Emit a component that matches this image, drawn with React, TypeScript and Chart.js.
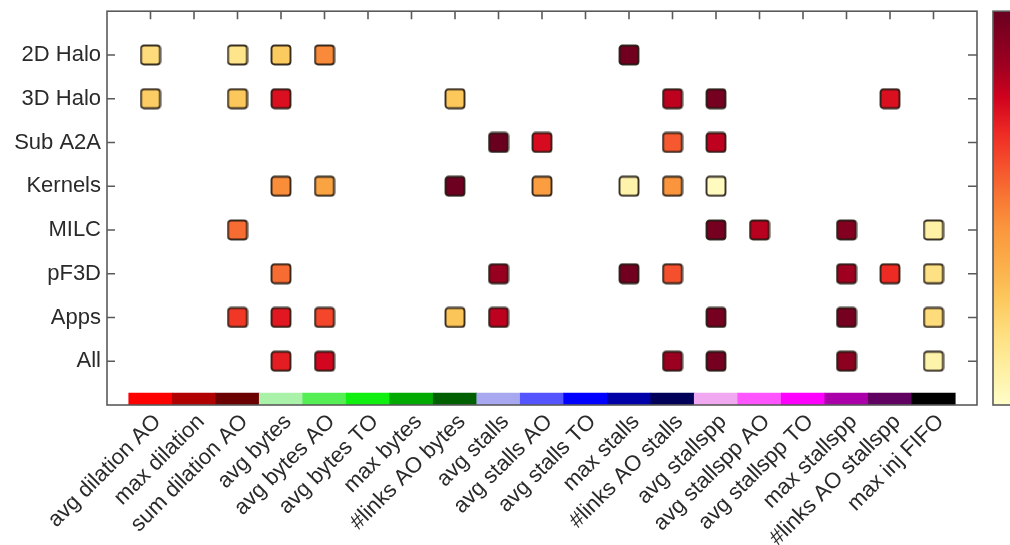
import React, { useEffect, useRef } from 'react';
import { Chart, registerables } from 'chart.js';

Chart.register(...registerables);

// ---- data ----
const metricLabels = [
  'avg dilation AO', 'max dilation', 'sum dilation AO',
  'avg bytes', 'avg bytes AO', 'avg bytes TO', 'max bytes', '#links AO bytes',
  'avg stalls', 'avg stalls AO', 'avg stalls TO', 'max stalls', '#links AO stalls',
  'avg stallspp', 'avg stallspp AO', 'avg stallspp TO', 'max stallspp', '#links AO stallspp',
  'max inj FIFO',
];

const metricColors = [
  '#ff0000', '#b00000', '#6a0000',
  '#aaf2aa', '#55ee55', '#10f010', '#00aa00', '#006000',
  '#a8a8f0', '#5555ff', '#0000ff', '#0000a8', '#000058',
  '#f0a8f0', '#ff55ff', '#ff00ff', '#aa00aa', '#600060',
  '#000000',
];

const workloadLabels = ['2D Halo', '3D Halo', 'Sub A2A', 'Kernels', 'MILC', 'pF3D', 'Apps', 'All'];

const _ = null;
//                 0     1    2     3     4     5  6  7     8     9    10 11    12    13    14  15 16    17    18
const halo2D  = [0.19, _, 0.15, 0.26, 0.48, _, _, _,    _,    _,    _, 0.98, _,    _,    _,    _, _,    _,    _];
const halo3D  = [0.25, _, 0.27, 0.75, _,    _, _, 0.27, _,    _,    _, _,    0.81, 0.97, _,    _, _,    0.75, _];
const subA2A  = [_,    _, _,    _,    _,    _, _, _,    1.0,  0.76, _, _,    0.59, 0.81, _,    _, _,    _,    _];
const kernels = [_,    _, _,    0.47, 0.40, _, _, 0.99, _,    0.42, _, 0.07, 0.45, 0.02, _,    _, _,    _,    _];
const milc    = [_,    _, 0.55, _,    _,    _, _, _,    _,    _,    _, _,    _,    0.97, 0.82, _, 0.93, _,    0.08];
const pf3d    = [_,    _, _,    0.55, _,    _, _, _,    0.88, _,    _, 0.98, 0.61, _,    _,    _, 0.86, 0.69, 0.17];
const apps    = [_,    _, 0.66, 0.73, 0.63, _, _, 0.28, 0.81, _,    _, _,    _,    0.97, _,    _, 0.97, _,    0.19];
const allRow  = [_,    _, _,    0.72, 0.77, _, _, _,    _,    _,    _, _,    0.87, 0.97, _,    _, 0.91, _,    0.07];

const rows = [halo2D, halo3D, subA2A, kernels, milc, pf3d, apps, allRow];

// ---- styling ----
const paletteStops: [number, string][] = [
  [0.0, '#fffdc8'],
  [0.10, '#feee9e'],
  [0.18, '#fedf80'],
  [0.27, '#fcc85c'],
  [0.35, '#fbb04a'],
  [0.44, '#fa993e'],
  [0.52, '#f87a34'],
  [0.61, '#f5502d'],
  [0.69, '#ee2a24'],
  [0.78, '#d0021e'],
  [0.86, '#a00020'],
  [1.0, '#690020'],
];

const FONT = '"Liberation Sans", Arial, Helvetica, sans-serif';
const FRAME = '#5a5a5a';
const BAND_BOTTOM = -1;
const BAND_TOP = -0.73;

function hexToRgb(h: string): number[] {
  const n = parseInt(h.slice(1), 16);
  return [(n >> 16) & 255, (n >> 8) & 255, n & 255];
}

function colorAt(v: number): string {
  const t = Math.max(0, Math.min(1, v));
  for (let i = 0; i < paletteStops.length - 1; i++) {
    const [a, ca] = paletteStops[i];
    const [b, cb] = paletteStops[i + 1];
    if (t >= a && t <= b) {
      const f = (t - a) / (b - a);
      const A = hexToRgb(ca);
      const B = hexToRgb(cb);
      const c = A.map((x, k) => Math.round(x + (B[k] - x) * f));
      return `rgb(${c[0]},${c[1]},${c[2]})`;
    }
  }
  return paletteStops[paletteStops.length - 1][1];
}

const squareCache: Record<string, HTMLCanvasElement> = {};
function squareFor(v: number): HTMLCanvasElement {
  const color = colorAt(v);
  if (squareCache[color]) return squareCache[color];
  const c = document.createElement('canvas');
  c.width = 22;
  c.height = 22;
  const g = c.getContext('2d')!;
  g.beginPath();
  if ((g as any).roundRect) (g as any).roundRect(1.5, 1.5, 19, 19, 3);
  else g.rect(1.5, 1.5, 19, 19);
  g.fillStyle = color;
  g.fill();
  g.lineWidth = 1.9;
  g.strokeStyle = 'rgba(30,20,12,0.88)';
  g.stroke();
  squareCache[color] = c;
  return c;
}

const framePlugin = {
  id: 'framePlugin',
  afterDatasetsDraw(chart: any) {
    const { ctx, chartArea } = chart;
    const { left, right, top, bottom } = chartArea;
    const xs = chart.scales.x;
    const ys = chart.scales.y;
    ctx.save();
    ctx.strokeStyle = FRAME;
    ctx.lineWidth = 1.6;
    ctx.strokeRect(left, top, right - left, bottom - top);
    ctx.beginPath();
    metricLabels.forEach((_l, i) => {
      const px = xs.getPixelForValue(i);
      ctx.moveTo(px, top);
      ctx.lineTo(px, top + 8);
    });
    workloadLabels.forEach((_l, r) => {
      const py = ys.getPixelForValue(7 - r);
      ctx.moveTo(left, py);
      ctx.lineTo(left + 8, py);
      ctx.moveTo(right, py);
      ctx.lineTo(right - 9, py);
    });
    ctx.stroke();

    // colour bar
    const cbx = right + 16;
    const cbw = 40;
    const grad = ctx.createLinearGradient(0, bottom, 0, top);
    paletteStops.forEach(([s, c]) => grad.addColorStop(s, c));
    ctx.fillStyle = grad;
    ctx.fillRect(cbx, top, cbw, bottom - top);
    ctx.strokeStyle = FRAME;
    ctx.lineWidth = 1.6;
    ctx.strokeRect(cbx, top, cbw, bottom - top);
    ctx.restore();
  },
};

export default function App() {
  const ref = useRef<HTMLCanvasElement>(null);

  useEffect(() => {
    if (!ref.current) return;
    const scatterSets = rows.map((vals, r) => ({
      type: 'scatter' as const,
      label: workloadLabels[r],
      data: vals
        .map((v, i) => (v == null ? null : { x: i, y: 7 - r, v }))
        .filter((p) => p !== null),
      pointStyle: (c: any) => squareFor(c.raw ? c.raw.v : 0),
      pointRadius: 11,
      pointHoverRadius: 11,
      order: 0,
    }));
    const bandSet = {
      type: 'bar' as const,
      label: 'metrics',
      data: metricLabels.map((_l, i) => ({ x: i, y: [BAND_BOTTOM, BAND_TOP] })),
      backgroundColor: metricColors,
      borderWidth: 0,
      barPercentage: 1,
      categoryPercentage: 1,
      order: 1,
    };

    const chart = new Chart(ref.current, {
      type: 'scatter',
      data: { datasets: [bandSet as any, ...scatterSets] },
      options: {
        animation: false,
        responsive: false,
        layout: { padding: { top: 7, right: 33, left: 0, bottom: 0 }, autoPadding: false },
        plugins: { legend: { display: false }, tooltip: { enabled: false } },
        scales: {
          x: {
            type: 'linear',
            min: -1,
            max: 19,
            offset: false,
            grid: { display: false },
            border: { display: false },
            afterBuildTicks: (axis: any) => {
              axis.ticks = metricLabels.map((_l, i) => ({ value: i }));
            },
            afterFit: (scale: any) => {
              scale.height = 140;
            },
            ticks: {
              autoSkip: false,
              maxRotation: 45,
              minRotation: 45,
              padding: -4,
              labelOffset: 7,
              color: '#2a2a2a',
              font: { family: FONT, size: 22 },
              callback: (v: any) => metricLabels[Math.round(v)] ?? '',
            },
          },
          y: {
            type: 'linear',
            min: -1,
            max: 8,
            grid: { display: false },
            border: { display: false },
            afterBuildTicks: (axis: any) => {
              axis.ticks = workloadLabels.map((_l, r) => ({ value: 7 - r }));
            },
            afterFit: (scale: any) => {
              scale.width = 107;
            },
            ticks: {
              padding: -2,
              color: '#2a2a2a',
              font: { family: FONT, size: 22 },
              callback: (v: any) => workloadLabels[7 - Math.round(v)] ?? '',
            },
          },
        },
      } as any,
      plugins: [framePlugin],
    });
    return () => chart.destroy();
  }, []);

  return (
    <div style={{ position: 'absolute', left: 0, top: 0, width: 1010, height: 545, background: '#fff' }}>
      <canvas ref={ref} width={1010} height={545} style={{ display: 'block' }} />
    </div>
  );
}
